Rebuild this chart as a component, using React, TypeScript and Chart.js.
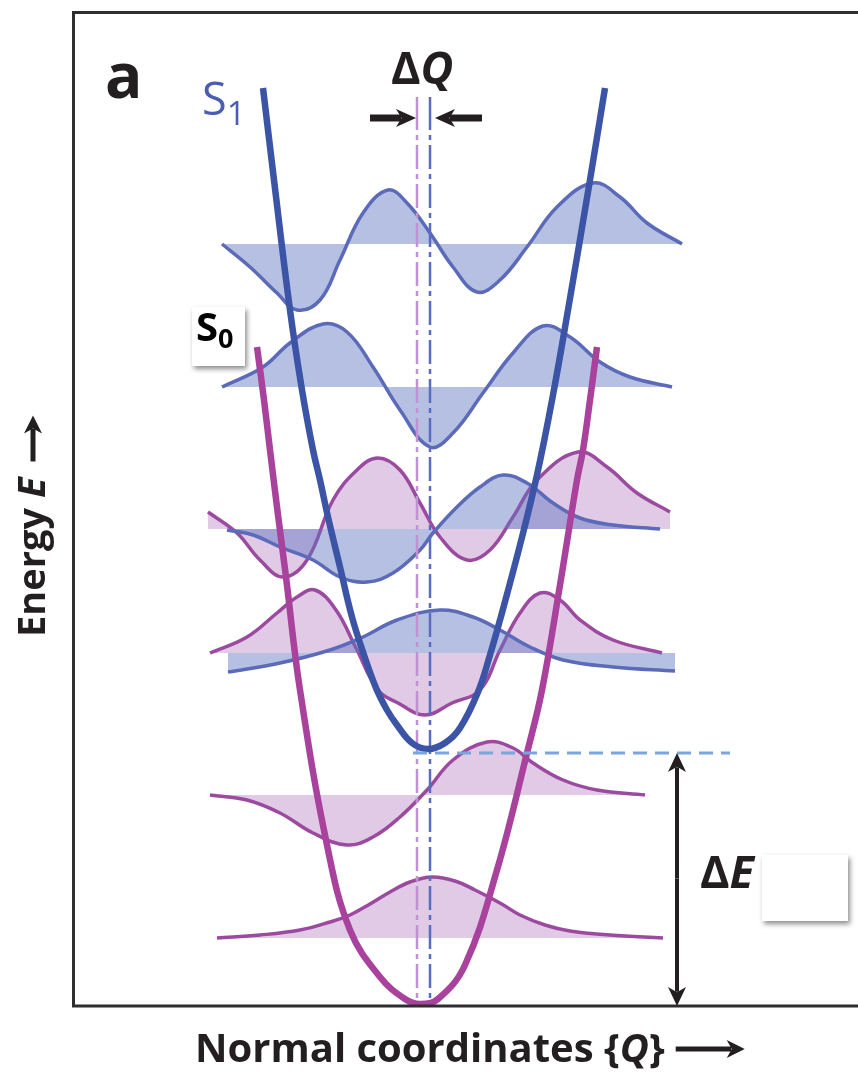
import { useEffect, useRef } from "react";
import { Chart, registerables } from "chart.js";

Chart.register(...registerables);

type Pt = [number, number]; // [Q, E]

// Potential energy curves of the ground (S0) and first excited (S1) states
const s0Potential: Pt[] = [
  [-16.4, 65.7], [-15.7, 60.4], [-15.1, 55.4], [-14.3, 48.9], [-13.5, 42.7],
  [-12.1, 31.4], [-9.4, 15.9], [-7.1, 7.4], [-4.1, 2.7], [-1.6, 0.5], [-0.1, 0],
  [1.7, 0.5], [4.4, 3.9], [7.6, 13.4], [10.6, 25.1], [12.1, 31.4], [13.9, 41.9],
  [15.6, 52.4], [16.2, 55.4], [16.9, 60.4], [17.6, 65.7],
];
const s1Potential: Pt[] = [
  [-15.8, 91.6], [-14.7, 82.4], [-13.1, 69.4], [-11.9, 61.4], [-10.8, 55.4],
  [-10.1, 52.4], [-9.3, 48.7], [-8.1, 43.7], [-6.9, 38.7], [-5.7, 34.9],
  [-4.5, 31.6], [-3.4, 29.4], [-2.4, 27.9], [-0.9, 26.1], [0.7, 25.5],
  [2.4, 26.1], [3.9, 27.6], [5.7, 31.2], [6.9, 34.9], [7.9, 38.4], [9.9, 45.9],
  [11.6, 52.9], [13.2, 60.9], [14.7, 69.4], [16.9, 82.4], [18.4, 91.6],
];

// Shaded-area baselines of the vibrational wavefunctions (v = 0..3)
const s0FillBase = [6.6, 20.9, 35.1, 47.5];
const s1FillBase = [35.1, 47.5, 61.7, 76.0];

// Vibrational wavefunctions drawn on their levels
const s0Wave0: Pt[] = [
  [-20.4, 6.6], [-16.1, 6.9], [-12.1, 7.4], [-9.1, 8.2], [-7.1, 8.9], [-5.1, 10.0],
  [-3.1, 11.2], [-1.1, 12.2], [1.1, 12.7], [3.4, 12.3], [5.4, 11.4], [7.9, 10.1],
  [9.9, 8.9], [12.4, 7.9], [14.9, 7.3], [18.9, 6.9], [24.2, 6.6],
];
const s0Wave1: Pt[] = [
  [-21.1, 20.9], [-17.4, 20.4], [-14.1, 19.1], [-10.8, 17.1], [-7.4, 15.9],
  [-4.8, 16.7], [-2.1, 18.7], [0.6, 21.4], [3.2, 24.4], [6.6, 26.2], [9.2, 25.6],
  [11.2, 24.1], [14.2, 22.4], [17.6, 21.4], [22.4, 20.9],
];
const s0Wave2: Pt[] = [
  [-21.1, 35.1], [-17.4, 36.7], [-14.4, 39.1], [-12.4, 40.7], [-10.6, 41.4],
  [-8.5, 39.4], [-6.5, 35.6], [-4.3, 31.4], [-2.3, 30.1], [0.4, 28.9], [3.1, 30.1],
  [5.9, 31.4], [7.9, 35.4], [9.9, 39.1], [11.9, 41.1], [13.9, 40.4], [15.9, 38.4],
  [19.2, 36.4], [24.1, 35.1],
];
const s0Wave3: Pt[] = [
  [-21.3, 49.2], [-18.4, 47.1], [-16.1, 44.4], [-13.8, 42.7], [-11.4, 44.4],
  [-8.8, 50.4], [-6.4, 53.4], [-4.3, 54.6], [-2.1, 53.4], [-0.1, 50.1], [1.9, 46.7],
  [4.6, 44.4], [6.9, 45.4], [9.2, 48.7], [11.6, 52.4], [15.7, 55.2], [18.6, 53.7],
  [21.6, 51.1], [24.9, 49.2],
];
const s1Wave0: Pt[] = [
  [-19.3, 33.2], [-14.1, 34.1], [-9.1, 35.4], [-5.8, 36.7], [-2.4, 38.4], [1.9, 39.4],
  [5.2, 38.7], [7.9, 37.4], [10.9, 35.7], [14.2, 34.4], [19.2, 33.7], [25.4, 33.3],
];
const s1Wave1: Pt[] = [
  [-19.4, 47.4], [-16.8, 46.9], [-14.1, 45.7], [-10.8, 44.4], [-8.1, 42.7],
  [-5.4, 42.2], [-2.8, 43.1], [-0.1, 45.4], [1.2, 47.1], [3.6, 49.7], [5.9, 51.7],
  [8.2, 52.9], [10.6, 52.1], [13.2, 50.1], [15.9, 48.6], [19.2, 47.9], [23.9, 47.5],
];
const s1Wave2: Pt[] = [
  [-19.9, 61.7], [-15.8, 63.7], [-13.1, 66.1], [-9.8, 68.0], [-7.4, 67.2],
  [-4.8, 63.7], [-2.1, 59.4], [0.9, 55.7], [3.2, 57.1], [6.2, 61.1], [9.2, 65.1],
  [12.2, 67.8], [14.9, 66.7], [17.9, 64.2], [20.9, 62.7], [25.1, 61.7],
];
const s1Wave3: Pt[] = [
  [-19.9, 76.0], [-17.1, 73.7], [-14.4, 71.1], [-12.4, 69.4], [-10.1, 70.4],
  [-8.1, 74.4], [-5.8, 79.1], [-3.3, 81.4], [-1.4, 80.1], [0.9, 77.1], [3.2, 73.7],
  [5.6, 71.2], [7.9, 72.4], [10.6, 75.7], [13.6, 79.7], [17.2, 82.1], [19.9, 80.7],
  [22.6, 78.1], [26.1, 76.0],
];

// Equilibrium positions, S1 origin and annotation anchors
const s0EqQ = -0.4;
const s1EqQ = 0.9;
const s1OriginE = 25.1;
const eqLineTopE = 90.7;
const eqLineSolidEndE = 87.4;
const eqLineDashStartE = 86.9;
const dQArrowE = 88.6;
const dQArrowLeft: [number, number] = [-5.1, -0.5];
const dQArrowRight: [number, number] = [6.1, 1.4];
const dEArrowQ = 25.6;
const originLineEndQ = 30.9;

const S0_LINE = "#a8429c";
const S1_LINE = "#3b54a6";
const S0_WAVE = "#9b4aa0";
const S1_WAVE = "#5b6ab9";
const S0_FILL = "rgba(160, 95, 175, 0.33)";
const S1_FILL = "rgba(95, 118, 195, 0.46)";

const TXT = '"Open Sans", "Noto Sans", sans-serif';

const toXY = (pts: Pt[]) => pts.map(([x, y]) => ({ x, y }));

function waveSet(pts: Pt[], level: number, line: string, fillColor: string, order: number) {
  return {
    data: toXY(pts),
    borderColor: line,
    borderWidth: 3.5,
    backgroundColor: fillColor,
    fill: { value: level },
    pointRadius: 0,
    tension: 0.4,
    order,
  };
}

function arrowHead(ctx: CanvasRenderingContext2D, tx: number, ty: number, dx: number, dy: number, len: number, half: number) {
  const px = -dy;
  const py = dx;
  ctx.beginPath();
  ctx.moveTo(tx, ty);
  ctx.lineTo(tx - dx * len + px * half, ty - dy * len + py * half);
  ctx.lineTo(tx - dx * len * 0.72, ty - dy * len * 0.72);
  ctx.lineTo(tx - dx * len - px * half, ty - dy * len - py * half);
  ctx.closePath();
  ctx.fill();
}

function shaftArrow(ctx: CanvasRenderingContext2D, x0: number, y0: number, x1: number, y1: number, width: number, len: number, half: number) {
  const L = Math.hypot(x1 - x0, y1 - y0);
  const dx = (x1 - x0) / L;
  const dy = (y1 - y0) / L;
  ctx.lineWidth = width;
  ctx.lineCap = "butt";
  ctx.beginPath();
  ctx.moveTo(x0, y0);
  ctx.lineTo(x1 - dx * len * 0.75, y1 - dy * len * 0.75);
  ctx.stroke();
  arrowHead(ctx, x1, y1, dx, dy, len, half);
}

type Run = { t: string; font: string; dy?: number };
function drawRuns(ctx: CanvasRenderingContext2D, x: number, y: number, runs: Run[]) {
  let cx = x;
  for (const r of runs) {
    ctx.font = r.font;
    ctx.fillText(r.t, cx, y + (r.dy || 0));
    cx += ctx.measureText(r.t).width;
  }
  return cx;
}

const overlay = {
  id: "overlay",
  afterDatasetsDraw(chart: any) {
    const { ctx, chartArea } = chart;
    const sx = chart.scales.x;
    const sy = chart.scales.y;
    const X = (q: number) => sx.getPixelForValue(q);
    const Y = (e: number) => sy.getPixelForValue(e);

    ctx.save();
    // frame
    ctx.strokeStyle = "#2e2e2e";
    ctx.lineWidth = 3;
    ctx.beginPath();
    ctx.moveTo(chart.width + 5, chartArea.top + 0.5);
    ctx.lineTo(chartArea.left + 0.5, chartArea.top + 0.5);
    ctx.lineTo(chartArea.left + 0.5, chartArea.bottom);
    ctx.lineTo(chart.width + 5, chartArea.bottom);
    ctx.stroke();

    // S1 origin dashed line
    ctx.strokeStyle = "#7ba6dc";
    ctx.lineWidth = 3;
    ctx.setLineDash([14, 8]);
    ctx.beginPath();
    ctx.moveTo(X(-0.8), Y(s1OriginE));
    ctx.lineTo(X(originLineEndQ), Y(s1OriginE));
    ctx.stroke();
    ctx.setLineDash([]);

    ctx.fillStyle = "#231f20";
    ctx.strokeStyle = "#231f20";
    // ΔE arrow
    const ax = X(dEArrowQ);
    shaftArrow(ctx, ax, (Y(s1OriginE) + Y(0)) / 2, ax, Y(s1OriginE), 4, 19, 9);
    shaftArrow(ctx, ax, (Y(s1OriginE) + Y(0)) / 2, ax, Y(-0.2), 4, 19, 9);

    // ΔQ arrows
    const ay = Y(dQArrowE);
    shaftArrow(ctx, X(dQArrowLeft[0]), ay, X(dQArrowLeft[1]), ay, 7, 20, 9);
    shaftArrow(ctx, X(dQArrowRight[0]), ay, X(dQArrowRight[1]), ay, 7, 20, 9);

    // texts
    ctx.textBaseline = "alphabetic";
    ctx.textAlign = "left";
    ctx.fillStyle = "#231f20";
    drawRuns(ctx, 105, 98, [{ t: "a", font: `bold 62px ${TXT}` }]);
    drawRuns(ctx, 391, 84, [
      { t: "Δ", font: `bold 45px ${TXT}` },
      { t: "Q", font: `italic bold 45px ${TXT}` },
    ]);
    drawRuns(ctx, 700, 888, [
      { t: "Δ", font: `bold 45px ${TXT}` },
      { t: "E", font: `italic bold 45px ${TXT}` },
    ]);

    ctx.fillStyle = "#4a5db0";
    drawRuns(ctx, 202, 115, [
      { t: "S", font: `45px ${TXT}` },
      { t: "1", font: `33px ${TXT}`, dy: 10 },
    ]);

    // label boxes with drop shadow
    const box = (x: number, y: number, w: number, h: number) => {
      ctx.save();
      ctx.shadowColor = "rgba(0,0,0,0.45)";
      ctx.shadowBlur = 5;
      ctx.shadowOffsetX = 2;
      ctx.shadowOffsetY = 3;
      ctx.fillStyle = "#ffffff";
      ctx.fillRect(x, y, w, h);
      ctx.restore();
    };
    box(192, 307, 53, 59);
    box(762, 855, 86, 66);

    ctx.fillStyle = "#000000";
    drawRuns(ctx, 196, 341, [
      { t: "S", font: `bold 40px ${TXT}` },
      { t: "0", font: `bold 27px ${TXT}`, dy: 7 },
    ]);

    // axis titles
    ctx.fillStyle = "#231f20";
    const endX = drawRuns(ctx, 195, 1062, [
      { t: "Normal coordinates {", font: `bold 40px ${TXT}` },
      { t: "Q", font: `italic bold 40px ${TXT}` },
      { t: "}", font: `bold 40px ${TXT}` },
    ]);
    shaftArrow(ctx, endX + 11, 1049, endX + 80, 1049, 5, 18, 9);

    ctx.save();
    ctx.translate(45, 637);
    ctx.rotate(-Math.PI / 2);
    const endY = drawRuns(ctx, 0, 0, [
      { t: "Energy ", font: `bold 38px ${TXT}` },
      { t: "E", font: `italic bold 38px ${TXT}` },
    ]);
    shaftArrow(ctx, endY + 16, -12, endY + 62, -12, 5, 18, 9);
    ctx.restore();

    ctx.restore();
  },
};

export default function App() {
  const ref = useRef<HTMLCanvasElement | null>(null);

  useEffect(() => {
    const canvas = ref.current;
    if (!canvas) return;

    const eqLine = (q: number, color: string, order: number) => [
      {
        data: [{ x: q, y: eqLineTopE }, { x: q, y: eqLineSolidEndE }],
        borderColor: color,
        borderWidth: 2.5,
        pointRadius: 0,
        fill: false,
        order,
      },
      {
        data: [{ x: q, y: eqLineDashStartE }, { x: q, y: 0 }],
        borderColor: color,
        borderWidth: 2.5,
        borderDash: [5, 5, 24, 5],
        pointRadius: 0,
        fill: false,
        order,
      },
    ];

    const potential = (pts: Pt[], color: string, order: number) => ({
      data: toXY(pts),
      borderColor: color,
      borderWidth: 6.5,
      borderCapStyle: "butt" as const,
      pointRadius: 0,
      fill: false,
      tension: 0.4,
      order,
    });

    const chart = new Chart(canvas, {
      type: "line",
      data: {
        datasets: [
          potential(s1Potential, S1_LINE, 0),
          potential(s0Potential, S0_LINE, 1),
          ...eqLine(s0EqQ, "#c192d2", 2),
          ...eqLine(s1EqQ, "#5a6cc0", 2),
          waveSet(s1Wave0, s1FillBase[0], S1_WAVE, S1_FILL, 3),
          waveSet(s1Wave1, s1FillBase[1], S1_WAVE, S1_FILL, 3),
          waveSet(s1Wave2, s1FillBase[2], S1_WAVE, S1_FILL, 3),
          waveSet(s1Wave3, s1FillBase[3], S1_WAVE, S1_FILL, 3),
          waveSet(s0Wave0, s0FillBase[0], S0_WAVE, S0_FILL, 4),
          waveSet(s0Wave1, s0FillBase[1], S0_WAVE, S0_FILL, 4),
          waveSet(s0Wave2, s0FillBase[2], S0_WAVE, S0_FILL, 4),
          waveSet(s0Wave3, s0FillBase[3], S0_WAVE, S0_FILL, 4),
        ] as any,
      },
      options: {
        animation: false,
        responsive: false,
        maintainAspectRatio: false,
        events: [],
        layout: { padding: { left: 73, top: 12, right: 0, bottom: 67 } },
        scales: {
          x: { type: "linear", min: -34.8, max: 43.7, display: false },
          y: { type: "linear", min: -0.2, max: 99.2, display: false },
        },
        plugins: {
          legend: { display: false },
          tooltip: { enabled: false },
        },
      },
      plugins: [overlay],
    });

    return () => chart.destroy();
  }, []);

  return (
    <div style={{ position: "absolute", left: 0, top: 0, width: 858, height: 1073, background: "#fff" }}>
      <canvas ref={ref} width={858} height={1073} style={{ display: "block", width: 858, height: 1073 }} />
    </div>
  );
}
